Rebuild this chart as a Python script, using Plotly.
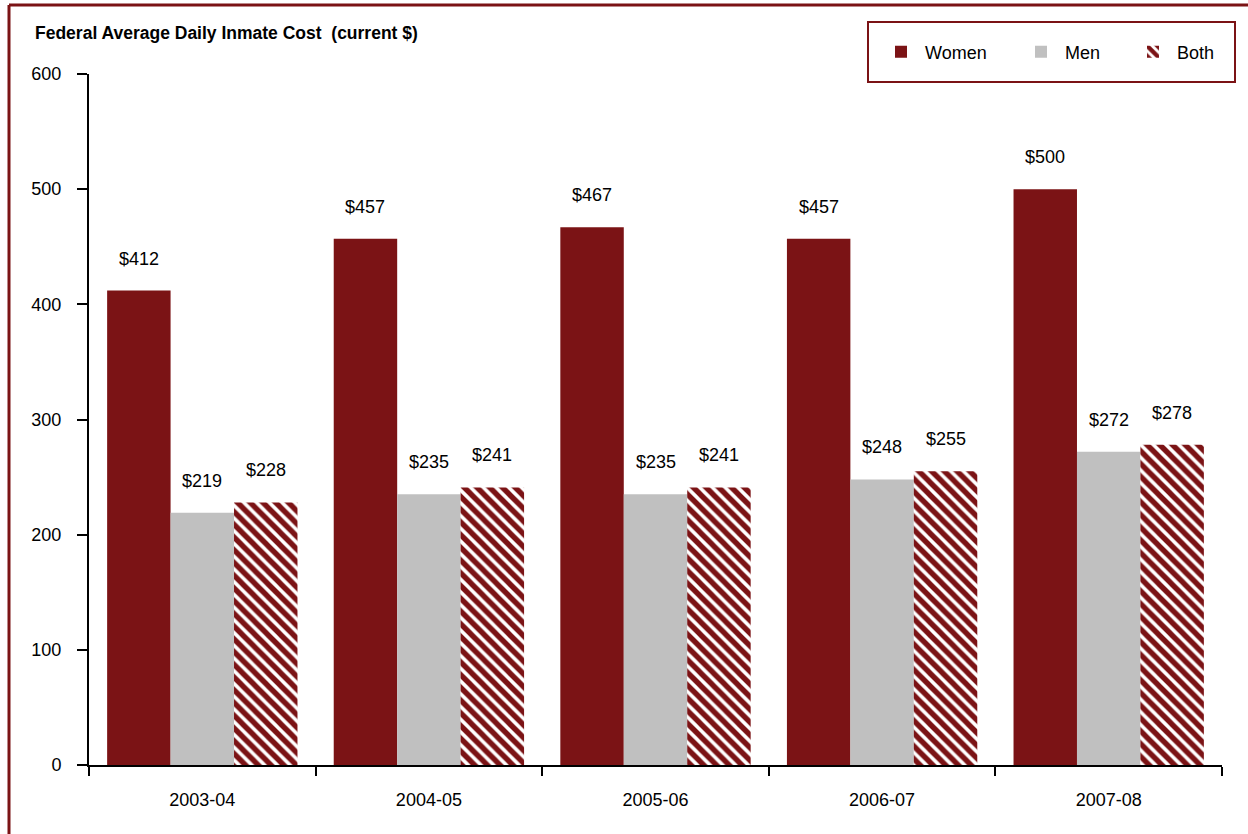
import plotly.graph_objects as go

categories = ["2003-04", "2004-05", "2005-06", "2006-07", "2007-08"]
women = [412, 457, 467, 457, 500]
men = [219, 235, 235, 248, 272]
both = [228, 241, 241, 255, 278]
series_names = ["Women", "Men", "Both"]
y_ticks = [0, 100, 200, 300, 400, 500, 600]

DARK = "#7B1315"
GREY = "#C0C0C0"
FONT = "Liberation Sans, Arial, sans-serif"

W, H = 1248, 834
L, R, T, B = 89, 26, 74, 69
pw, ph = W - L - R, H - T - B

def px_x(p):
    return (p - L) / pw

def px_y(p):
    return 1 + (T - p) / ph

fig = go.Figure()
fig.add_bar(x=categories, y=women, name=series_names[0], legend="legend",
            marker=dict(color=DARK, line=dict(width=0)))
fig.add_bar(x=categories, y=men, name=series_names[1], legend="legend2",
            marker=dict(color=GREY, line=dict(width=0)))
fig.add_bar(x=categories, y=both, name=series_names[2], legend="legend3",
            marker=dict(color="white", line=dict(width=0),
                        pattern=dict(shape="\\", fgcolor=DARK, fgopacity=1, bgcolor="white",
                                     size=9, solidity=0.6, fillmode="replace")))

bargap = 0.16
bw = pw / len(categories) * (1 - bargap) / 3
annos = []
for si, vals in enumerate([women, men, both]):
    for c, v in zip(categories, vals):
        annos.append(dict(x=c, y=v, xref="x", yref="y", text=f"${v}", showarrow=False,
                          xshift=(si - 1) * bw, yshift=20, yanchor="bottom",
                          font=dict(size=18, color="black", family=FONT)))
annos.append(dict(x=px_x(33), y=px_y(33), xref="paper", yref="paper", xanchor="left", yanchor="middle",
                  text="<b>Federal Average Daily Inmate Cost  (current $)</b>", showarrow=False,
                  font=dict(size=17.5, color="black", family=FONT)))

shapes = [
    dict(type="line", xref="paper", yref="paper", x0=px_x(9), x1=px_x(9), y0=px_y(5), y1=px_y(840),
         line=dict(color=DARK, width=3)),
    dict(type="line", xref="paper", yref="paper", x0=px_x(9), x1=px_x(1250), y0=px_y(5), y1=px_y(5),
         line=dict(color=DARK, width=3)),
    dict(type="rect", xref="paper", yref="paper", x0=px_x(868), x1=px_x(1235), y0=px_y(82), y1=px_y(22),
         line=dict(color=DARK, width=2)),
]

def leg(xpix):
    return dict(orientation="h", x=px_x(xpix), y=px_y(52), xanchor="left", yanchor="middle",
                font=dict(size=18, family=FONT), bgcolor="rgba(0,0,0,0)", borderwidth=0,
                itemwidth=38)

fig.update_layout(
    width=W, height=H, margin=dict(l=L, r=R, t=T, b=B),
    paper_bgcolor="white", plot_bgcolor="white",
    barmode="group", bargap=bargap, bargroupgap=0,
    font=dict(family=FONT, size=18, color="black"),
    showlegend=True,
    legend=leg(877), legend2=leg(1017), legend3=leg(1129),
    annotations=annos, shapes=shapes,
)
fig.update_xaxes(type="category", showline=True, linecolor="black", linewidth=2,
                 ticks="outside", tickson="boundaries", ticklen=9, tickwidth=2, tickcolor="black",
                 showgrid=False, tickfont=dict(size=18), ticklabelstandoff=17)
fig.update_yaxes(range=[0, 600], tickvals=y_ticks, showline=True, linecolor="black", linewidth=2,
                 ticks="outside", ticklen=10, tickwidth=2, tickcolor="black",
                 showgrid=False, zeroline=False, tickfont=dict(size=18), ticklabelstandoff=12)

fig.write_html("out.html", config={"displayModeBar": False},
               post_script="document.body.style.margin='0';document.body.style.overflow='hidden';")
